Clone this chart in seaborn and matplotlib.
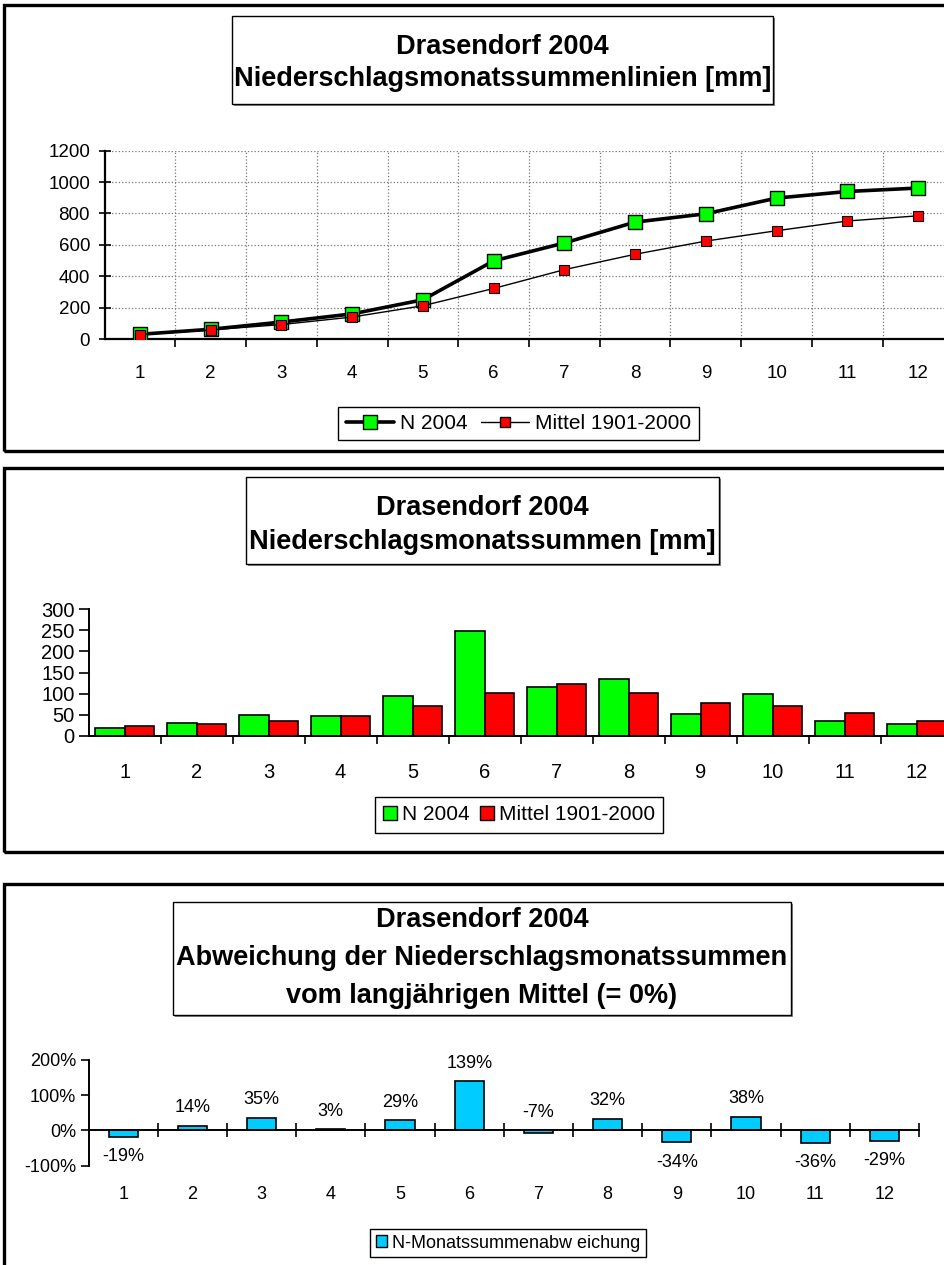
import numpy as np
import pandas as pd
import matplotlib
matplotlib.use("Agg")
import matplotlib.pyplot as plt
import seaborn as sns
from matplotlib.patches import Rectangle, Patch
from matplotlib.lines import Line2D
from matplotlib.ticker import FuncFormatter, MultipleLocator

# ---------------- data ----------------
months = list(range(1, 13))
month_labels = [str(m) for m in months]

# cumulative monthly sums [mm]
n2004_cum = [30, 62, 108, 160, 250, 498, 612, 745, 798, 898, 940, 962]
mittel_cum = [28, 58, 92, 140, 212, 322, 442, 540, 624, 690, 752, 785]

# monthly sums [mm]
n2004_month = [19, 31, 50, 47, 94, 249, 115, 135, 51, 98, 34, 27]
mittel_month = [23, 27, 35, 47, 70, 102, 123, 102, 78, 70, 55, 35]

# deviation from long-term mean [%]
deviation = [-19, 14, 35, 3, 29, 139, -7, 32, -34, 38, -36, -29]

series_names = ["N 2004", "Mittel 1901-2000"]
dev_name = "N-Monatssummenabw eichung"

title1 = ["Drasendorf 2004", "Niederschlagsmonatssummenlinien [mm]"]
title2 = ["Drasendorf 2004", "Niederschlagsmonatssummen [mm]"]
title3 = ["Drasendorf 2004", "Abweichung der Niederschlagsmonatssummen",
          "vom langjährigen Mittel (= 0%)"]

GREEN = "#00FF00"
RED = "#FF0000"
CYAN = "#00CCFF"

# ---------------- style ----------------
sns.set_style("white")
plt.rcParams["font.family"] = ["Liberation Sans", "DejaVu Sans"]
plt.rcParams["text.color"] = "black"
plt.rcParams["axes.labelcolor"] = "black"
plt.rcParams["xtick.color"] = "black"
plt.rcParams["ytick.color"] = "black"
plt.rcParams["xtick.labelcolor"] = "black"
plt.rcParams["ytick.labelcolor"] = "black"

W, H = 945, 1265
fig = plt.figure(figsize=(W / 100, H / 100), dpi=100)


def fx(x):
    return x / W


def fy(y):
    return 1 - y / H


def ax_rect(x0, x1, ytop, ybot):
    return [fx(x0), fy(ybot), fx(x1) - fx(x0), fy(ytop) - fy(ybot)]


# ---------------- panel frames ----------------
for (ytop, ybot) in [(5, 451), (468, 852), (884, 1320)]:
    fig.add_artist(Rectangle((fx(4), fy(ybot)), fx(990) - fx(4), fy(ytop) - fy(ybot),
                             transform=fig.transFigure, fill=False,
                             edgecolor="black", linewidth=2.4, zorder=0))


def title_box(x0, x1, ytop, ybot, lines, ycenters):
    fig.add_artist(Rectangle((fx(x0 + 2), fy(ybot + 2)), fx(x1) - fx(x0), fy(ytop) - fy(ybot),
                             transform=fig.transFigure, facecolor="#888888",
                             edgecolor="none", zorder=1))
    fig.add_artist(Rectangle((fx(x0), fy(ybot)), fx(x1) - fx(x0), fy(ytop) - fy(ybot),
                             transform=fig.transFigure, facecolor="white",
                             edgecolor="black", linewidth=1.0, zorder=2))
    xc = (x0 + x1) / 2
    for txt, yc in zip(lines, ycenters):
        fig.text(fx(xc), fy(yc), txt, ha="center", va="center_baseline",
                 fontsize=19.5, fontweight="bold", color="black", zorder=3)


title_box(232, 773, 16, 104, title1, [44, 76])
title_box(246, 719, 477, 564, title2, [505, 539])
title_box(173, 791, 902, 1015, title3, [917, 955, 993])


def style_spines(ax, lw=1.5):
    for s in ["top", "right"]:
        ax.spines[s].set_visible(False)
    for s in ["left", "bottom"]:
        ax.spines[s].set_color("black")
        ax.spines[s].set_linewidth(lw)
    ax.set_xlabel("")
    ax.set_ylabel("")


# ---------------- chart 1: cumulative lines ----------------
ax1 = fig.add_axes(ax_rect(104.6, 953.4, 150.7, 339))
sns.lineplot(x=months, y=n2004_cum, ax=ax1, color="black", linewidth=2.6,
             marker="s", markersize=10, markerfacecolor=GREEN,
             markeredgecolor="black", markeredgewidth=1.0, zorder=4)
sns.lineplot(x=months, y=mittel_cum, ax=ax1, color="black", linewidth=1.0,
             marker="s", markersize=6.5, markerfacecolor=RED,
             markeredgecolor="black", markeredgewidth=0.8, zorder=5)
ax1.set_xlim(0.5, 12.5)
ax1.set_ylim(0, 1200)
ax1.yaxis.set_major_locator(MultipleLocator(200))
ax1.set_xticks(months)
ax1.set_xticklabels(month_labels)
ax1.set_xticks(np.arange(1.5, 13, 1), minor=True)
ax1.tick_params(axis="x", which="major", bottom=True, length=0, labelsize=13.5, pad=19)
ax1.tick_params(axis="x", which="minor", bottom=True, length=6, width=1.2,
                direction="out", color="black")
ax1.tick_params(axis="y", which="major", left=True, length=9, width=1.2, direction="inout",
                labelsize=13.5, pad=6, color="black")
ax1.grid(which="minor", axis="x", color="#777777", linestyle=":", linewidth=0.9)
ax1.grid(which="major", axis="y", color="#777777", linestyle=":", linewidth=0.9)
style_spines(ax1, 1.6)
ax1.set_facecolor("white")

h1 = [Line2D([], [], color="black", linewidth=2.6, marker="s", markersize=10,
             markerfacecolor=GREEN, markeredgecolor="black"),
      Line2D([], [], color="black", linewidth=1.0, marker="s", markersize=6.5,
             markerfacecolor=RED, markeredgecolor="black")]
leg1 = ax1.legend(h1, series_names, loc="center", bbox_to_anchor=(fx(518.5), fy(423.5)),
                  bbox_transform=fig.transFigure, ncol=2, fontsize=15, frameon=True,
                  fancybox=False, edgecolor="black", framealpha=1, borderpad=0.35,
                  handlelength=2.3, handletextpad=0.3, columnspacing=0.65, borderaxespad=0)
leg1.get_frame().set_linewidth(1.0)

# ---------------- chart 2: monthly bars ----------------
df2 = pd.DataFrame({
    "Monat": month_labels * 2,
    "mm": n2004_month + mittel_month,
    "Reihe": [series_names[0]] * 12 + [series_names[1]] * 12,
})
ax2 = fig.add_axes(ax_rect(88.6, 952.6, 609.3, 735.7))
sns.barplot(data=df2, x="Monat", y="mm", hue="Reihe", order=month_labels,
            hue_order=series_names, palette=[GREEN, RED], width=0.82, gap=0,
            edgecolor="black", linewidth=1.2, saturation=1, legend=False, ax=ax2)
ax2.set_xlim(-0.5, 11.5)
ax2.set_ylim(0, 300)
ax2.yaxis.set_major_locator(MultipleLocator(50))
ax2.set_xticks(np.arange(0.5, 12, 1), minor=True)
ax2.tick_params(axis="x", which="major", bottom=True, length=0, labelsize=14.5, pad=20)
ax2.tick_params(axis="x", which="minor", bottom=True, length=6, width=1.2,
                direction="out", color="black")
ax2.tick_params(axis="y", which="major", left=True, length=7, width=1.2, direction="out",
                labelsize=14.5, pad=3, color="black")
style_spines(ax2, 1.4)

h2 = [Patch(facecolor=GREEN, edgecolor="black", linewidth=1.0),
      Patch(facecolor=RED, edgecolor="black", linewidth=1.0)]
leg2 = ax2.legend(h2, series_names, loc="center", bbox_to_anchor=(fx(519), fy(815)),
                  bbox_transform=fig.transFigure, ncol=2, fontsize=15, frameon=True,
                  fancybox=False, edgecolor="black", framealpha=1, borderpad=0.4,
                  handlelength=0.65, handleheight=0.65, handletextpad=0.25,
                  columnspacing=0.5, borderaxespad=0)
leg2.get_frame().set_linewidth(1.0)

# ---------------- chart 3: deviation bars ----------------
df3 = pd.DataFrame({"Monat": month_labels, "Abw": deviation})
ax3 = fig.add_axes(ax_rect(88.6, 919, 1060, 1165.7))
sns.barplot(data=df3, x="Monat", y="Abw", order=month_labels, color=CYAN,
            width=0.42, edgecolor="black", linewidth=1.2, saturation=1, ax=ax3)
ax3.set_xlim(-0.5, 11.5)
ax3.set_ylim(-100, 200)
ax3.yaxis.set_major_locator(MultipleLocator(100))
ax3.yaxis.set_major_formatter(FuncFormatter(lambda v, p: f"{int(round(v))}%"))
ax3.set_xticks(np.arange(0.5, 12, 1), minor=True)
ax3.spines["bottom"].set_position(("data", 0))
ax3.tick_params(axis="x", which="major", bottom=True, length=0, labelsize=13, pad=40)
ax3.tick_params(axis="x", which="minor", bottom=True, length=10, width=1.2,
                direction="inout", color="black")
ax3.tick_params(axis="y", which="major", left=True, length=6, width=1.2, direction="out",
                labelsize=13, pad=3, color="black")
style_spines(ax3, 1.4)

for i, v in enumerate(deviation):
    if v > -10:
        ax3.annotate(f"{v}%", (i, max(v, 0)), xytext=(0, 7), textcoords="offset points",
                     ha="center", va="bottom", fontsize=13, color="black")
    else:
        ax3.annotate(f"{v}%", (i, v), xytext=(0, -8), textcoords="offset points",
                     ha="center", va="top", fontsize=13, color="black")

h3 = [Patch(facecolor=CYAN, edgecolor="black", linewidth=1.0)]
leg3 = ax3.legend(h3, [dev_name], loc="center", bbox_to_anchor=(fx(508), fy(1243)),
                  bbox_transform=fig.transFigure, ncol=1, fontsize=13, frameon=True,
                  fancybox=False, edgecolor="black", framealpha=1, borderpad=0.3,
                  handlelength=0.65, handleheight=0.65, handletextpad=0.25,
                  borderaxespad=0)
leg3.get_frame().set_linewidth(1.0)

fig.savefig("out.png", dpi=100, facecolor="white")
